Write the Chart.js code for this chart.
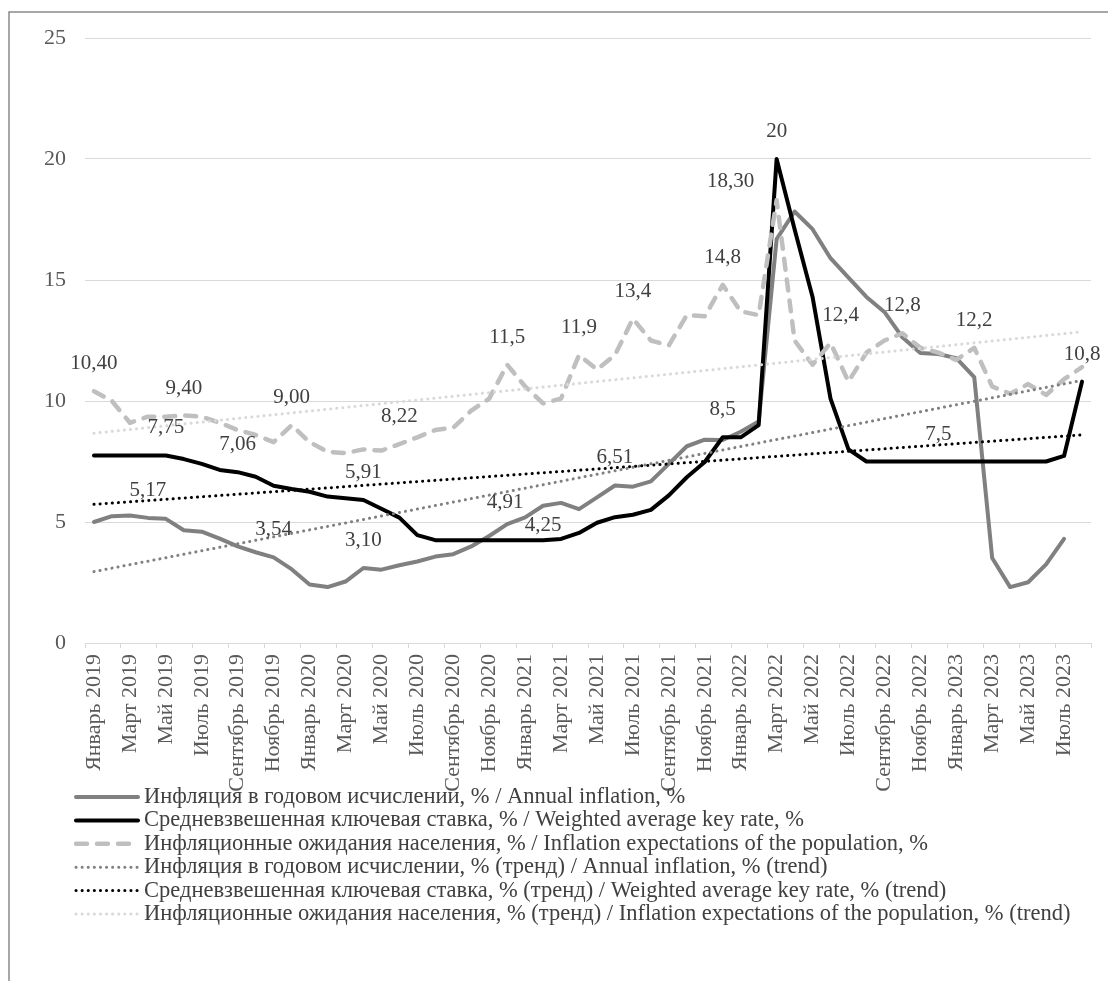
<!DOCTYPE html>
<html>
<head>
<meta charset="utf-8">
<script src="https://cdn.jsdelivr.net/npm/chart.js@4.4.0/dist/chart.umd.min.js"></script>
<style>
html,body{margin:0;padding:0;background:#fff;overflow:hidden}
canvas{display:block}
</style>
</head>
<body>
<canvas id="c" width="1108" height="981"></canvas>
<script>
// ---- data ----
const categories = [
  'Январь 2019','Февраль 2019','Март 2019','Апрель 2019','Май 2019','Июнь 2019','Июль 2019','Август 2019','Сентябрь 2019','Октябрь 2019','Ноябрь 2019','Декабрь 2019',
  'Январь 2020','Февраль 2020','Март 2020','Апрель 2020','Май 2020','Июнь 2020','Июль 2020','Август 2020','Сентябрь 2020','Октябрь 2020','Ноябрь 2020','Декабрь 2020',
  'Январь 2021','Февраль 2021','Март 2021','Апрель 2021','Май 2021','Июнь 2021','Июль 2021','Август 2021','Сентябрь 2021','Октябрь 2021','Ноябрь 2021','Декабрь 2021',
  'Январь 2022','Февраль 2022','Март 2022','Апрель 2022','Май 2022','Июнь 2022','Июль 2022','Август 2022','Сентябрь 2022','Октябрь 2022','Ноябрь 2022','Декабрь 2022',
  'Январь 2023','Февраль 2023','Март 2023','Апрель 2023','Май 2023','Июнь 2023','Июль 2023','Август 2023'
];

const inflation = [
  5.00, 5.24, 5.27, 5.17, 5.13, 4.66, 4.60, 4.31, 3.99, 3.75, 3.54, 3.05,
  2.42, 2.31, 2.54, 3.10, 3.03, 3.21, 3.37, 3.57, 3.67, 3.99, 4.42, 4.91,
  5.19, 5.67, 5.79, 5.53, 6.02, 6.51, 6.46, 6.68, 7.40, 8.13, 8.40, 8.39,
  8.73, 9.15, 16.69, 17.83, 17.10, 15.90, 15.10, 14.30, 13.68, 12.63, 11.98, 11.94,
  11.77, 10.99, 3.51, 2.31, 2.51, 3.25, 4.30, null
];

const keyRate = [
  7.75, 7.75, 7.75, 7.75, 7.75, 7.60, 7.40, 7.15, 7.06, 6.87, 6.50, 6.36,
  6.25, 6.05, 5.98, 5.91, 5.55, 5.18, 4.46, 4.25, 4.25, 4.25, 4.25, 4.25,
  4.25, 4.25, 4.30, 4.55, 4.97, 5.20, 5.30, 5.50, 6.10, 6.85, 7.48, 8.5,
  8.5, 9.0, 20, 17.1, 14.3, 10.1, 8.0, 7.5, 7.5, 7.5, 7.5, 7.5,
  7.5, 7.5, 7.5, 7.5, 7.5, 7.5, 7.73, 10.8
];

const expectations = [
  10.40, 10.0, 9.1, 9.35, 9.35, 9.40, 9.35, 9.1, 8.8, 8.6, 8.3, 9.00,
  8.3, 7.9, 7.85, 8.0, 7.95, 8.22, 8.5, 8.8, 8.9, 9.6, 10.1, 11.5,
  10.6, 9.9, 10.1, 11.9, 11.3, 11.9, 13.4, 12.5, 12.3, 13.55, 13.5, 14.8,
  13.7, 13.55, 18.30, 12.5, 11.5, 12.4, 10.8, 12.0, 12.5, 12.8, 12.2, 12.0,
  11.7, 12.2, 10.6, 10.3, 10.7, 10.25, 10.9, 11.4
];

// linear trend lines: values at first and last category
const inflationTrendEnds = [2.95, 10.85];
const keyRateTrendEnds = [5.73, 8.6];
const expectationsTrendEnds = [8.67, 12.86];

const seriesNames = [
  'Инфляция в годовом исчислении, % / Annual inflation, %',
  'Средневзвешенная ключевая ставка, % / Weighted average key rate, %',
  'Инфляционные ожидания населения, % / Inflation expectations of the population, %',
  'Инфляция в годовом исчислении, % (тренд) / Annual inflation, % (trend)',
  'Средневзвешенная ключевая ставка, % (тренд) / Weighted average key rate, % (trend)',
  'Инфляционные ожидания населения, % (тренд) / Inflation expectations of the population, % (trend)'
];

// data labels: [dataset, category index, decimals, dx, dy]
const labelSpecs = [
  [2, 0, 2], [2, 5, 2], [2, 11, 2], [2, 17, 2], [2, 23, 1], [2, 27, 1], [2, 30, 1], [2, 35, 1],
  [2, 38, 2, -46, -18.5], [2, 41, 1, 10], [2, 45, 1], [2, 49, 1],
  [1, 4, 2], [1, 8, 2], [1, 15, 2], [1, 25, 2, 0, -15], [1, 35, 1], [1, 38, 0], [1, 47, 1], [1, 55, 1],
  [0, 3, 2], [0, 10, 2], [0, 15, 2], [0, 23, 2, -2, -22], [0, 29, 2]
];

// ---- styling ----
const FONT = '"Liberation Serif", "Times New Roman", serif';
const first = categories[0], last = categories[categories.length - 1];
const trend = ends => [{x: first, y: ends[0]}, {x: last, y: ends[1]}];

const common = { pointRadius: 0, pointHoverRadius: 0, tension: 0, fill: false, borderJoinStyle: 'round', spanGaps: true };

const datasets = [
  Object.assign({}, common, { label: seriesNames[0], data: inflation, borderColor: '#808080', borderWidth: 4, borderCapStyle: 'round', order: 6 }),
  Object.assign({}, common, { label: seriesNames[1], data: keyRate, borderColor: '#000000', borderWidth: 4, borderCapStyle: 'round', order: 5 }),
  Object.assign({}, common, { label: seriesNames[2], data: expectations, borderColor: '#bfbfbf', borderWidth: 4.5, borderDash: [11, 10], borderCapStyle: 'round', order: 4 }),
  Object.assign({}, common, { label: seriesNames[3], data: trend(inflationTrendEnds), borderColor: '#808080', borderWidth: 3, borderDash: [0.1, 6], borderCapStyle: 'round', order: 3 }),
  Object.assign({}, common, { label: seriesNames[4], data: trend(keyRateTrendEnds), borderColor: '#000000', borderWidth: 3, borderDash: [0.1, 6], borderCapStyle: 'round', order: 2 }),
  Object.assign({}, common, { label: seriesNames[5], data: trend(expectationsTrendEnds), borderColor: '#d9d9d9', borderWidth: 3, borderDash: [0.1, 6], borderCapStyle: 'round', order: 1 })
];

const framePlugin = {
  id: 'frame',
  beforeDraw(chart) {
    const ctx = chart.ctx;
    ctx.save();
    ctx.fillStyle = '#ffffff';
    ctx.fillRect(0, 0, chart.width, chart.height);
    ctx.strokeStyle = '#8a8a8a';
    ctx.lineWidth = 1.5;
    ctx.beginPath();
    ctx.moveTo(9, chart.height + 5);
    ctx.lineTo(9, 12);
    ctx.lineTo(chart.width + 5, 12);
    ctx.stroke();
    ctx.restore();
  }
};

const labelPlugin = {
  id: 'valueLabels',
  afterDatasetsDraw(chart) {
    const ctx = chart.ctx;
    ctx.save();
    ctx.font = '21px ' + FONT;
    ctx.fillStyle = '#404040';
    ctx.textAlign = 'center';
    ctx.textBaseline = 'middle';
    for (const spec of labelSpecs) {
      const [ds, i, dec, dx = 0, dy = -27.5] = spec;
      const el = chart.getDatasetMeta(ds).data[i];
      const v = chart.data.datasets[ds].data[i];
      if (!el || v == null) continue;
      ctx.fillText(v.toFixed(dec).replace('.', ','), el.x + dx, el.y + dy);
    }
    ctx.restore();
  }
};

const legendPlugin = {
  id: 'bottomLegend',
  afterDraw(chart) {
    const ctx = chart.ctx;
    ctx.save();
    ctx.font = '22.5px ' + FONT;
    ctx.textBaseline = 'middle';
    ctx.textAlign = 'left';
    chart.data.datasets.forEach((ds, k) => {
      const y = 797 + k * 23.4;
      ctx.strokeStyle = ds.borderColor;
      ctx.lineWidth = ds.borderWidth;
      ctx.setLineDash(ds.borderDash || []);
      ctx.lineCap = ds.borderCapStyle || 'butt';
      ctx.beginPath();
      ctx.moveTo(76, y);
      ctx.lineTo(138, y);
      ctx.stroke();
      ctx.setLineDash([]);
      ctx.fillStyle = '#404040';
      ctx.fillText(ds.label, 144, y);
    });
    ctx.restore();
  }
};

new Chart(document.getElementById('c'), {
  type: 'line',
  data: { labels: categories, datasets },
  options: {
    responsive: false,
    animation: false,
    events: [],
    layout: { padding: { top: 38, right: 17, bottom: 0, left: 0 } },
    plugins: { legend: { display: false }, tooltip: { enabled: false } },
    scales: {
      x: {
        type: 'category',
        offset: true,
        grid: {
          offset: true,
          drawOnChartArea: false,
          drawTicks: true,
          tickLength: 5,
          tickWidth: 1,
          tickColor: c => (c.index === undefined || c.index % 2 === 0) ? '#d9d9d9' : 'rgba(0,0,0,0)'
        },
        border: { display: true, color: '#d9d9d9', width: 1 },
        ticks: {
          autoSkip: false,
          minRotation: 90,
          maxRotation: 90,
          padding: 6,
          color: '#595959',
          font: { family: FONT, size: 22 },
          callback: (v, i) => (i % 2 === 0 ? categories[i] : '')
        },
        afterFit: s => { s.height = 338; s.paddingLeft = 0; s.paddingRight = 0; }
      },
      y: {
        min: 0,
        max: 25,
        ticks: { stepSize: 5, color: '#595959', padding: 19, font: { family: FONT, size: 22 } },
        grid: { color: '#d9d9d9', lineWidth: 1, drawTicks: false },
        border: { display: false },
        afterFit: s => { s.width = 85; s.paddingTop = 0; s.paddingBottom = 0; }
      }
    }
  },
  plugins: [framePlugin, labelPlugin, legendPlugin]
});
</script>
</body>
</html>
